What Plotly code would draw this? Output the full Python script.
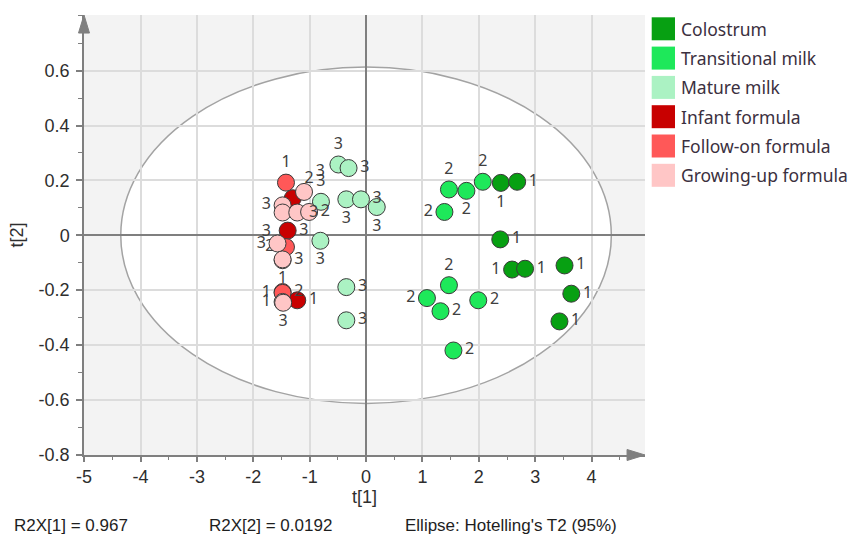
import plotly.graph_objects as go

# ---- score data: t[1], t[2] and observation labels per sample group ----
GROUPS = ["Colostrum", "Transitional milk", "Mature milk",
          "Infant formula", "Follow-on formula", "Growing-up formula"]
GROUP_COLORS = ["#07a012", "#1ee85a", "#abf2c3", "#c80000", "#ff5858", "#ffc6c6"]

colostrum_t1 = [2.39, 2.68, 2.38, 2.59, 2.82, 3.52, 3.64, 3.43]
colostrum_t2 = [0.191, 0.195, -0.015, -0.125, -0.122, -0.110, -0.213, -0.314]
colostrum_lab = ["1", "1", "1", "1", "1", "1", "1", "1"]

transitional_t1 = [1.47, 1.78, 2.07, 1.39, 1.47, 1.08, 1.32, 1.99, 1.55]
transitional_t2 = [0.167, 0.162, 0.195, 0.085, -0.182, -0.229, -0.277, -0.237, -0.420]
transitional_lab = ["2", "2", "2", "2", "2", "2", "2", "2", "2"]

mature_t1 = [-0.49, -0.31, -0.80, -0.35, -0.09, 0.19, -0.81, -0.35, -0.35]
mature_t2 = [0.258, 0.245, 0.122, 0.131, 0.131, 0.103, -0.020, -0.189, -0.310]
mature_lab = ["3", "3", "3", "3", "3", "3", "3", "3", "3"]

infant_t1 = [-1.30, -1.39, -1.22]
infant_t2 = [0.135, 0.017, -0.237]
infant_lab = ["2", "3", "1"]

followon_t1 = [-1.42, -1.42, -1.48, -1.48]
followon_t2 = [0.192, -0.043, -0.207, -0.210]
followon_lab = ["1", "2", "2", "1"]

growingup_t1 = [-1.10, -1.48, -1.48, -1.22, -1.01, -1.57, -1.48, -1.48, -1.48, -1.47]
growingup_t2 = [0.158, 0.109, 0.083, 0.083, 0.085, -0.030, -0.091, -0.088, -0.243, -0.246]
growingup_lab = ["3", "3", "3", "3", "2", "3", "3", "1", "1", "3"]

# label placement around each marker
colostrum_pos = ["bottom center", "middle right", "middle right", "middle left",
                 "middle right", "middle right", "middle right", "middle right"]
transitional_pos = ["top center", "bottom center", "top center", "middle left", "top center",
                    "middle left", "middle right", "middle right", "middle right"]
mature_pos = ["top center", "middle right", "top center", "bottom center", "middle right",
              "bottom center", "bottom center", "middle right", "middle right"]
infant_pos = ["top right", "middle right", "middle right"]
followon_pos = ["top center", "middle left", "middle right", "middle left"]
growingup_pos = ["top right", "middle left", "bottom left", "middle right", "middle right",
                 "middle left", "middle right", "bottom center", "middle left", "bottom center"]

# axis ticks
X_TICKS = [-5, -4, -3, -2, -1, 0, 1, 2, 3, 4]
X_TICK_TEXT = ["-5", "-4", "-3", "-2", "-1", "0", "1", "2", "3", "4"]
Y_TICKS = [-0.8, -0.6, -0.4, -0.2, 0, 0.2, 0.4, 0.6]
Y_TICK_TEXT = ["-0.8", "-0.6", "-0.4", "-0.2", "0", "0.2", "0.4", "0.6"]

# model summary and Hotelling's T2 (95%) ellipse half-axes
R2X_1 = 0.967
R2X_2 = 0.0192
ELLIPSE_T1 = 4.35
ELLIPSE_T2 = 0.613

series = [
    (colostrum_t1, colostrum_t2, colostrum_lab, colostrum_pos),
    (transitional_t1, transitional_t2, transitional_lab, transitional_pos),
    (mature_t1, mature_t2, mature_lab, mature_pos),
    (infant_t1, infant_t2, infant_lab, infant_pos),
    (followon_t1, followon_t2, followon_lab, followon_pos),
    (growingup_t1, growingup_t2, growingup_lab, growingup_pos),
]

fig = go.Figure()
for name, color, (t1, t2, lab, pos) in zip(GROUPS, GROUP_COLORS, series):
    fig.add_trace(go.Scatter(
        x=t1, y=t2, text=lab, name=name,
        mode="markers+text", textposition=pos,
        textfont=dict(family="Noto Sans, Open Sans, sans-serif", size=16, color="#404040"),
        marker=dict(size=17, color=color, line=dict(color="#3a3a3a", width=1)),
        cliponaxis=False, showlegend=False,
    ))

AX = "#7f7f7f"
TICKFONT = dict(family="Liberation Sans, Arial, sans-serif", size=18, color="#2e2e2e")

fig.update_xaxes(
    range=[-5.002, 4.947], tickmode="array", tickvals=X_TICKS, ticktext=X_TICK_TEXT,
    showgrid=True, gridcolor="#dcdcdc", gridwidth=1.5,
    zeroline=True, zerolinecolor=AX, zerolinewidth=1.5,
    showline=True, linecolor=AX, linewidth=1.5,
    ticks="outside", ticklen=5, tickwidth=1.5, tickcolor=AX, tickfont=TICKFONT,
    minor=dict(tickmode="linear", dtick=0.5, tick0=-5, ticks="outside", ticklen=3,
               tickwidth=1.2, tickcolor=AX, showgrid=False),
    title=dict(text="t[1]", font=TICKFONT, standoff=3),
)
fig.update_yaxes(
    range=[-0.801, 0.803], tickmode="array", tickvals=Y_TICKS, ticktext=Y_TICK_TEXT,
    showgrid=True, gridcolor="#dcdcdc", gridwidth=1.5,
    zeroline=True, zerolinecolor=AX, zerolinewidth=1.5,
    showline=True, linecolor=AX, linewidth=1.5,
    ticks="outside", ticklen=6, tickwidth=1.5, tickcolor=AX, tickfont=TICKFONT,
    ticklabelstandoff=3,
    minor=dict(tickmode="linear", dtick=0.1, tick0=0, ticks="outside", ticklen=4,
               tickwidth=1.2, tickcolor=AX, showgrid=False),
    title=dict(text="t[2]", font=TICKFONT, standoff=10),
)

# Hotelling's T2 ellipse (white inside, grey page outside)
fig.add_shape(type="circle", xref="x", yref="y",
              x0=-ELLIPSE_T1, x1=ELLIPSE_T1, y0=-ELLIPSE_T2, y1=ELLIPSE_T2,
              fillcolor="white", line=dict(color="#a3a3a3", width=1.5), layer="below")

# axis arrowheads
fig.add_shape(type="path", xref="paper", yref="paper",
              path="M 0 1 L -0.0098 0.959 L 0.0098 0.959 Z",
              fillcolor=AX, line=dict(color=AX, width=1), layer="above")
fig.add_shape(type="path", xref="paper", yref="paper",
              path="M 1 0 L 0.968 0.0125 L 0.968 -0.0125 Z",
              fillcolor=AX, line=dict(color=AX, width=1), layer="above")

# group key on the right
LEG_FONT = dict(family="Noto Sans, Open Sans, sans-serif", size=17.5, color="#3b3040")
px_w, px_h = 561.0, 440.0
for i, (name, color) in enumerate(zip(GROUPS, GROUP_COLORS)):
    top = 17.3 + 29.3 * i
    fig.add_shape(type="rect", xref="paper", yref="paper",
                  x0=(651.7 - 84) / px_w, x1=(675 - 84) / px_w,
                  y0=(455 - top) / px_h, y1=(455 - top - 23) / px_h,
                  fillcolor=color, line=dict(width=0))
    fig.add_annotation(xref="paper", yref="paper", x=(679 - 84) / px_w,
                       y=(455 - top - 11.5) / px_h, text=name, showarrow=False,
                       xanchor="left", yanchor="middle", font=LEG_FONT)

# model summary line
FOOT = dict(family="Liberation Sans, Arial, sans-serif", size=17, color="#1e1e1e")
for xpx, txt in [(12, f"R2X[1] = {R2X_1}"), (207, f"R2X[2] = {R2X_2}"),
                 (403, "Ellipse: Hotelling's T2 (95%)")]:
    fig.add_annotation(xref="paper", yref="paper", x=(xpx - 84) / px_w, y=(455 - 525) / px_h,
                       text=txt, showarrow=False, xanchor="left", yanchor="middle", font=FOOT)

fig.update_layout(
    width=855, height=538,
    margin=dict(l=84, r=210, t=15, b=83),
    paper_bgcolor="white", plot_bgcolor="#f3f3f3",
    showlegend=False,
)

fig.write_html("out.html")
